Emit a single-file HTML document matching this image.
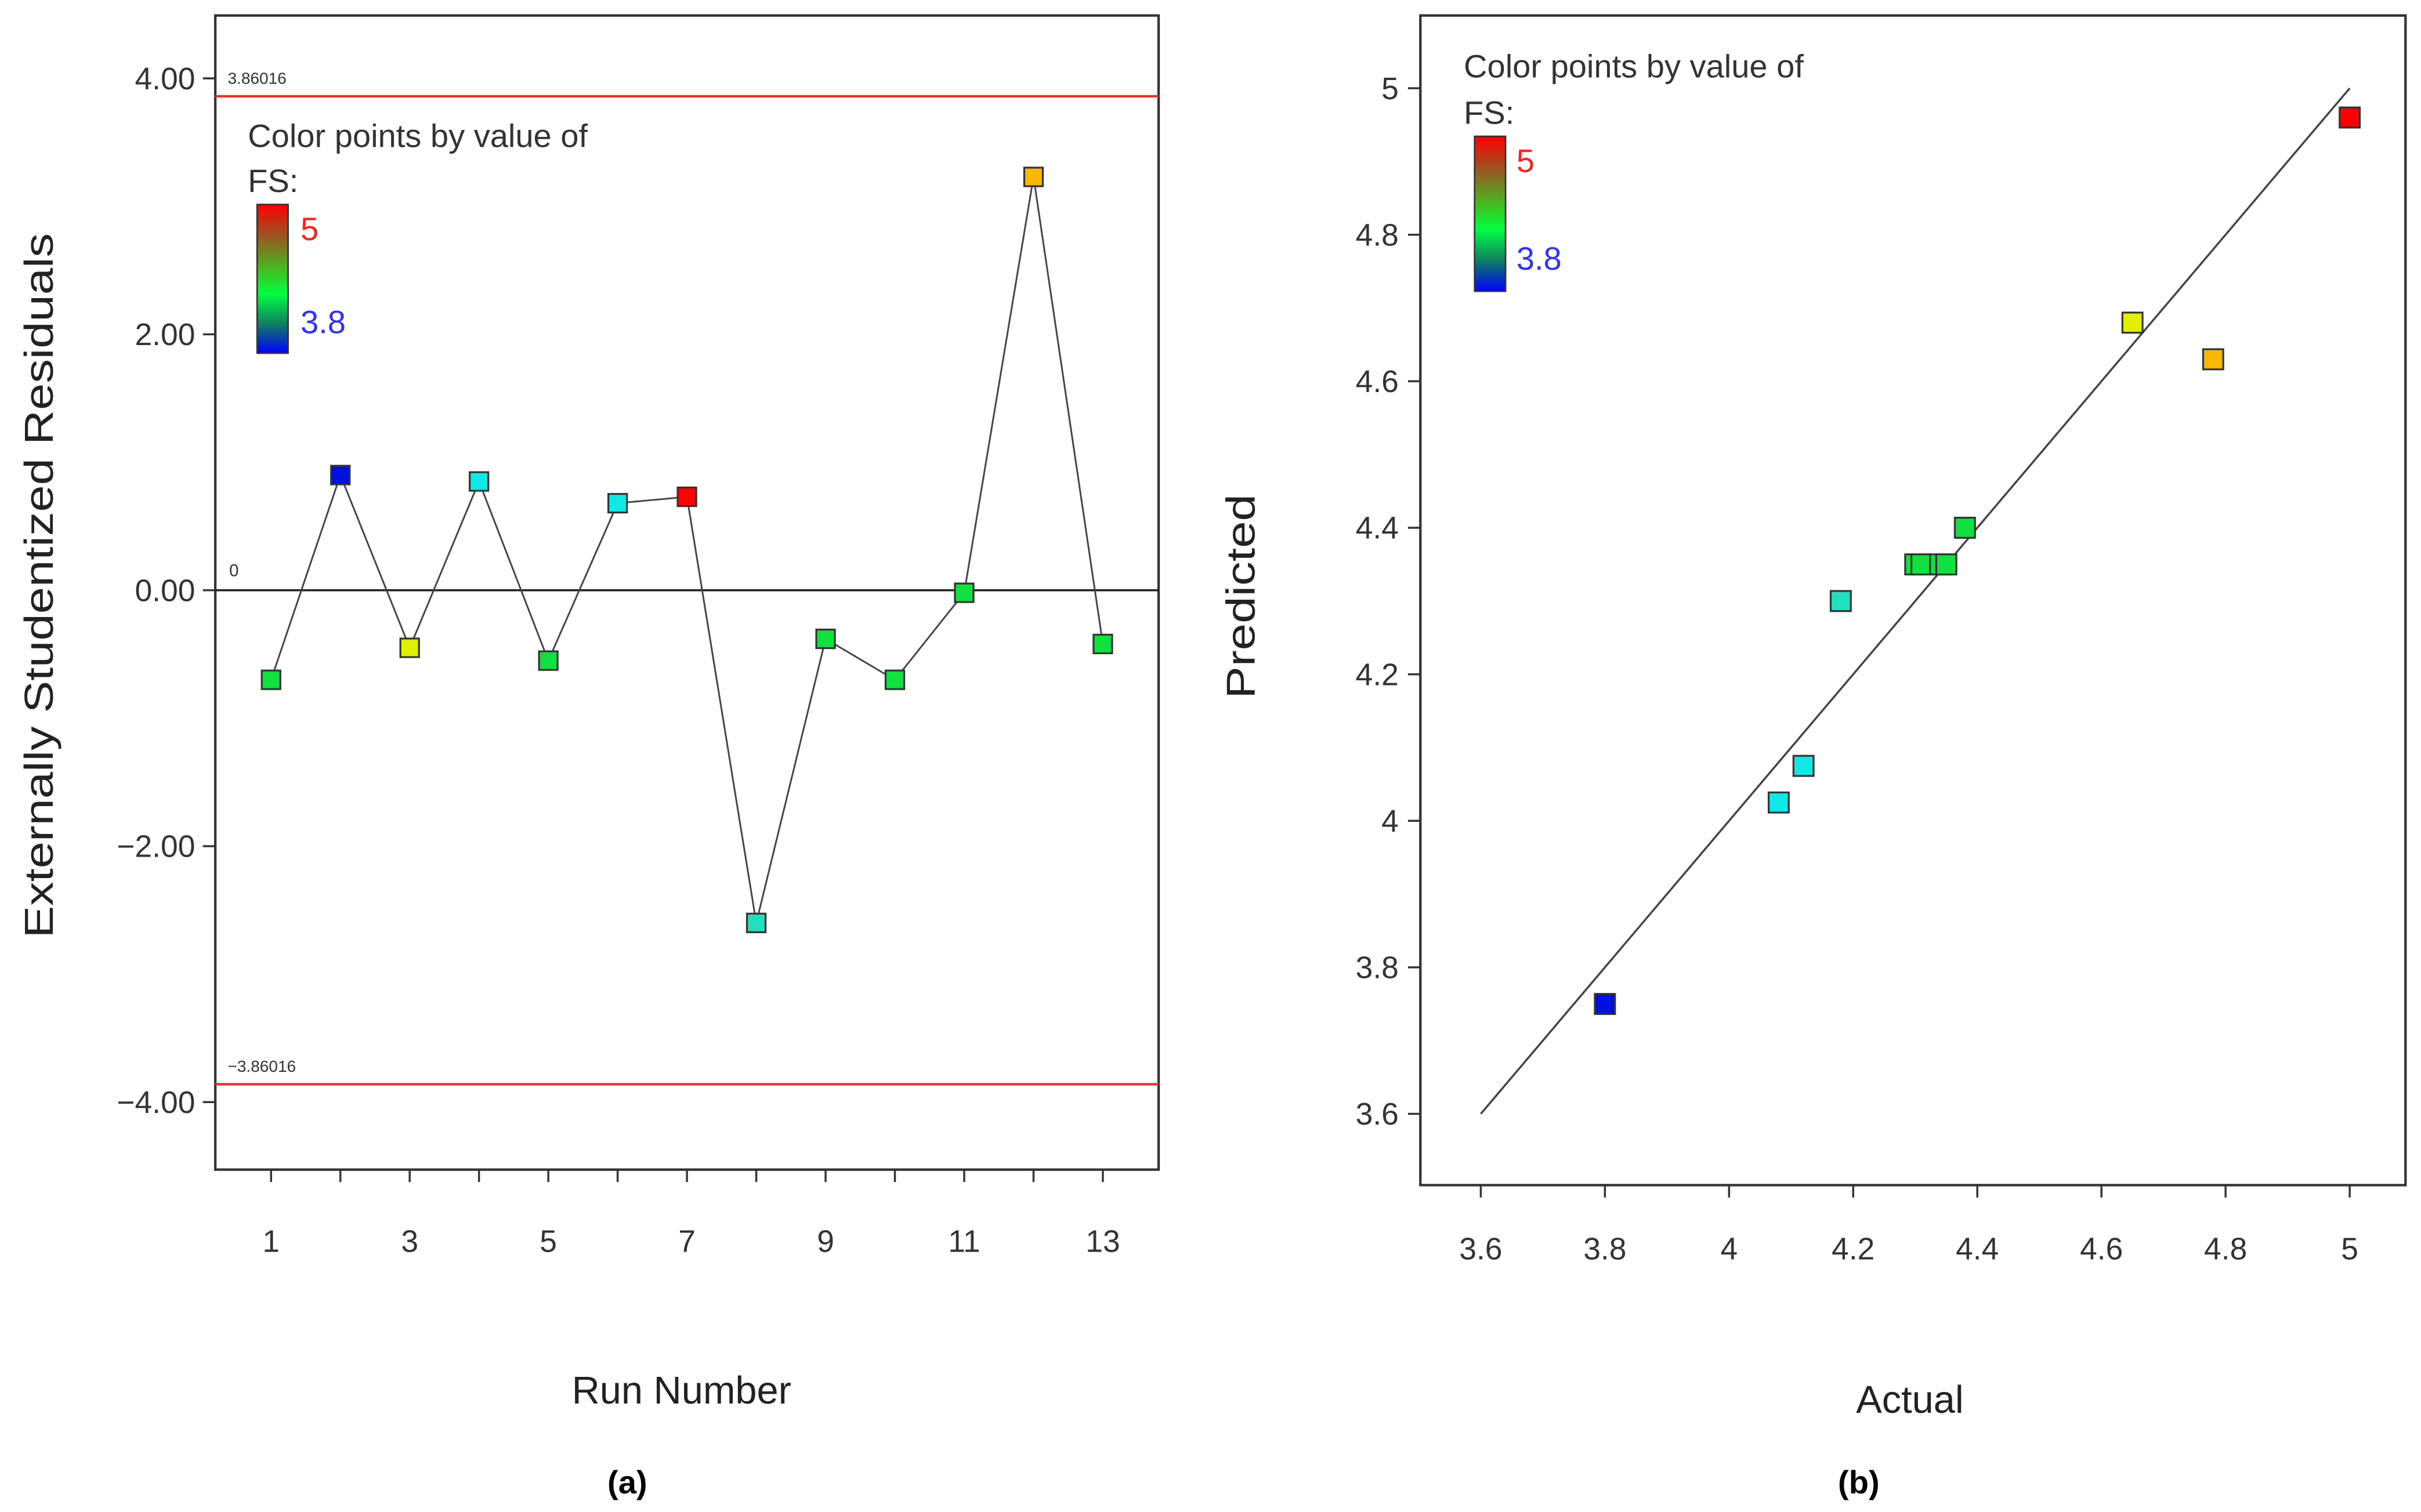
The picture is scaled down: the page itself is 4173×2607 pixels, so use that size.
<!DOCTYPE html>
<html><head><meta charset="utf-8"><style>
html,body{margin:0;padding:0;background:#fff;}
svg{display:block;}
text{font-family:"Liberation Sans",sans-serif;}
</style></head><body>
<svg id="chart" width="4173" height="2607" viewBox="0 0 1563 976" preserveAspectRatio="none" xmlns="http://www.w3.org/2000/svg">
<defs>
<linearGradient id="cb" x1="0" y1="0" x2="0" y2="1">
<stop offset="0" stop-color="#ff0000"/><stop offset="0.2" stop-color="#a05020"/><stop offset="0.45" stop-color="#40c020"/><stop offset="0.6" stop-color="#00ff40"/><stop offset="0.8" stop-color="#108060"/><stop offset="1" stop-color="#0000ff"/>
</linearGradient>
</defs>
<g id="pa"></g>
<g id="pb"></g>
</svg>
<script>
// Panel (a) data
const runs = [1,2,3,4,5,6,7,8,9,10,11,12,13];
const residuals = [-0.70,0.90,-0.45,0.85,-0.55,0.68,0.73,-2.60,-0.38,-0.70,-0.02,3.23,-0.42];
const residColors = ["#10e040","#0010e0","#e0f000","#10e8e8","#10e040","#10e8e8","#ff0000","#20e0c0","#10e040","#10e040","#10e040","#f8b800","#10e040"];
const resTicks = [4,2,0,-2,-4];
const resTickLabels = ["4.00","2.00","0.00","\u22122.00","\u22124.00"];
const runTicks = [1,3,5,7,9,11,13];
const limit = 3.86016;
// Panel (b) data
const actual = [3.80,4.08,4.12,4.18,4.30,4.31,4.34,4.35,4.38,4.65,4.78,5.00];
const predicted = [3.75,4.025,4.075,4.30,4.35,4.35,4.35,4.35,4.40,4.68,4.63,4.96];
const predColors = ["#0010e0","#10e8e8","#10e8e8","#20e0c0","#10e040","#10e040","#10e040","#10e040","#10e040","#e0f000","#f8b800","#ff0000"];
const pbTicks = [3.6,3.8,4,4.2,4.4,4.6,4.8,5];
const pbTickLabels = ["3.6","3.8","4","4.2","4.4","4.6","4.8","5"];

const NS="http://www.w3.org/2000/svg";
function mk(parent,tag,attrs,txt){const e=document.createElementNS(NS,tag);for(const k in attrs)e.setAttribute(k,attrs[k]);if(txt!==undefined)e.textContent=txt;parent.appendChild(e);return e;}

// ---------- Panel A ----------
const A=document.getElementById('pa');
const ay=v=>381-v*82.6;
const ax=r=>175+(r-1)*44.75;
let e;
e=mk(A,'rect',{x:139,y:10,width:609,height:745,fill:'none',stroke:'#333','stroke-width':1.6});


resTicks.forEach((t,i)=>{
  e=mk(A,'line',{x1:131,x2:139,y1:ay(t),y2:ay(t),stroke:'#333','stroke-width':1.3});
  
  
  e=mk(A,'text',{x:126,y:ay(t)+7,'text-anchor':'end','font-size':20,fill:'#333'},resTickLabels[i]);
  
  
});
runs.forEach(r=>{
  e=mk(A,'line',{x1:ax(r),x2:ax(r),y1:755,y2:763,stroke:'#333','stroke-width':1.3});
  
  
});
runTicks.forEach(r=>{
  e=mk(A,'text',{x:ax(r),y:808,'text-anchor':'middle','font-size':20,fill:'#333'},String(r));
  
  
});
[limit,-limit].forEach((v,i)=>{
  e=mk(A,'line',{x1:139,x2:748,y1:ay(v),y2:ay(v),stroke:'#f03030','stroke-width':1.6});
  
  
  e=mk(A,'text',{x:147,y:ay(v)-8,'font-size':10.5,fill:'#333'},(i?'\u2212':'')+limit.toFixed(5));
  
  
});
e=mk(A,'line',{x1:139,x2:748,y1:ay(0),y2:ay(0),stroke:'#222','stroke-width':1.4});


e=mk(A,'text',{x:148,y:ay(0)-9,'font-size':11,fill:'#333'},'0');


e=mk(A,'polyline',{points:runs.map((r,i)=>ax(r)+','+ay(residuals[i])).join(' '),fill:'none',stroke:'#444','stroke-width':1.1});


runs.forEach((r,i)=>{
  e=mk(A,'rect',{x:ax(r)-6,y:ay(residuals[i])-6,width:12,height:12,fill:residColors[i],stroke:'#333','stroke-width':1.2});
  
  
});
e=mk(A,'text',{x:160,y:95,'font-size':21,fill:'#333'},'Color points by value of');


e=mk(A,'text',{x:160,y:124,'font-size':21,fill:'#333'},'FS:');


e=mk(A,'rect',{x:166,y:132,width:20,height:96,fill:'url(#cb)',stroke:'#333','stroke-width':1});


e=mk(A,'text',{x:194,y:155,'font-size':21,fill:'#ff2020'},'5');


e=mk(A,'text',{x:194,y:215,'font-size':21,fill:'#3030ff'},'3.8');


e=mk(A,'text',{x:440,y:906,'text-anchor':'middle','font-size':25,fill:'#222'},'Run Number');


e=mk(A,'text',{x:0,y:0,'text-anchor':'middle','font-size':26,fill:'#222',textLength:455,lengthAdjust:'spacingAndGlyphs',transform:'translate(34,378) rotate(-90)'},'Externally Studentized Residuals');


e=mk(A,'text',{x:405,y:964,'text-anchor':'middle','font-size':21,'font-weight':'bold',fill:'#000','font-family':'Liberation Serif'},'(a)');



// ---------- Panel B ----------
const B=document.getElementById('pb');
const bx=v=>956+(v-3.6)*400.7;
const by=v=>719-(v-3.6)*472.9;
e=mk(B,'rect',{x:917,y:10,width:636,height:755,fill:'none',stroke:'#333','stroke-width':1.6});


pbTicks.forEach((t,i)=>{
  e=mk(B,'line',{x1:909,x2:917,y1:by(t),y2:by(t),stroke:'#333','stroke-width':1.3});
  
  
  e=mk(B,'text',{x:903,y:by(t)+7,'text-anchor':'end','font-size':20,fill:'#333'},pbTickLabels[i]);
  
  
  e=mk(B,'line',{x1:bx(t),x2:bx(t),y1:765,y2:773,stroke:'#333','stroke-width':1.3});
  
  
  e=mk(B,'text',{x:bx(t),y:813,'text-anchor':'middle','font-size':20,fill:'#333'},pbTickLabels[i]);
  
  
});
e=mk(B,'line',{x1:bx(3.6),y1:by(3.6),x2:bx(5),y2:by(5),stroke:'#444','stroke-width':1.3});


actual.forEach((a,i)=>{
  e=mk(B,'rect',{x:bx(a)-6.5,y:by(predicted[i])-6.5,width:13,height:13,fill:predColors[i],stroke:'#333','stroke-width':1.2});
  
  
});
e=mk(B,'text',{x:945,y:50,'font-size':21,fill:'#333'},'Color points by value of');


e=mk(B,'text',{x:945,y:80,'font-size':21,fill:'#333'},'FS:');


e=mk(B,'rect',{x:952,y:88,width:20,height:100,fill:'url(#cb)',stroke:'#333','stroke-width':1});


e=mk(B,'text',{x:979,y:111,'font-size':21,fill:'#ff2020'},'5');


e=mk(B,'text',{x:979,y:174,'font-size':21,fill:'#3030ff'},'3.8');


e=mk(B,'text',{x:1233,y:912,'text-anchor':'middle','font-size':25,fill:'#222'},'Actual');


e=mk(B,'text',{x:0,y:0,'text-anchor':'middle','font-size':26,fill:'#222',textLength:132,lengthAdjust:'spacingAndGlyphs',transform:'translate(810,385) rotate(-90)'},'Predicted');


e=mk(B,'text',{x:1200,y:964,'text-anchor':'middle','font-size':21,'font-weight':'bold',fill:'#000','font-family':'Liberation Serif'},'(b)');


</script>
</body></html>
